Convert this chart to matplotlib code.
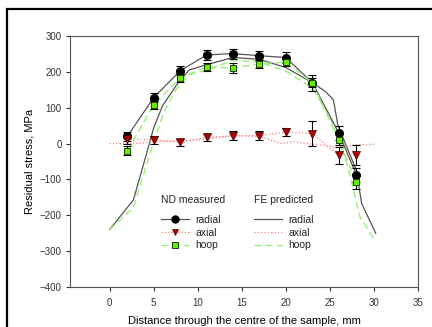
import matplotlib
matplotlib.use('Agg')
import matplotlib.pyplot as plt
from matplotlib.lines import Line2D
from matplotlib.patches import Rectangle

plt.rcParams['font.family'] = ['Liberation Sans', 'DejaVu Sans']

# --- measured (ND) ---
x_meas = [2, 5, 8, 11, 14, 17, 20, 23, 26, 28]
radial = [20, 128, 203, 247, 251, 245, 240, 170, 30, -87]
radial_err = [13, 12, 13, 13, 14, 13, 14, 22, 20, 20]
axial = [12, 11, 3, 17, 22, 22, 32, 28, -33, -32]
axial_err = [12, 11, 11, 11, 13, 12, 11, 35, 23, 27]
hoop = [-20, 108, 183, 214, 211, 222, 227, 170, 11, -107]
hoop_err = [12, 12, 12, 12, 13, 12, 12, 12, 15, 20]

# --- predicted (FE) ---
fe_radial_x = [0, 2.7, 4.2, 5.0, 6.0, 7.5, 9.0, 11, 14, 17, 20, 23, 24.5, 25.4, 25.9, 26.9, 28.0, 28.6, 30.2]
fe_radial = [-240, -157, -27, 44, 105, 160, 205, 220, 240, 235, 212, 170, 145, 122, 52, -9, -74, -167, -250]
fe_axial_x = [0, 3, 5, 8, 11, 14, 17, 19.5, 21, 23, 26, 28, 30.2]
fe_axial = [0, 0, 5, 8, 12, 22, 20, 0, 5, -2, -10, -3, -2]
fe_hoop_x = [0, 2.7, 4.3, 5.2, 6.2, 7.5, 9, 11, 14, 17, 20, 23, 25, 26, 27, 28.4, 30.2]
fe_hoop = [-240, -178, -50, 20, 90, 150, 192, 205, 232, 228, 202, 155, 75, 10, -60, -204, -274]

fig = plt.figure(figsize=(4.32, 3.27), dpi=100)
ax = fig.add_axes([70/432, 1 - 287/327, 348/432, 251/327])

# outer frame of the picture
fig.patches.append(Rectangle((7/432, -0.2), 1.2, 0.2 + 1 - 9/327, transform=fig.transFigure,
                             fill=False, edgecolor='black', linewidth=1.6))

grey = '#555555'
pink = '#ff7f7f'
lgreen = '#99ee77'

# FE lines
ax.plot(fe_radial_x, fe_radial, '-', color=grey, lw=0.9, zorder=2)
ax.plot(fe_axial_x, fe_axial, ':', color=pink, lw=0.9, zorder=2)
ax.plot(fe_hoop_x, fe_hoop, '--', color=lgreen, lw=1.0, dashes=(5, 3), zorder=2)

# measured lines
ax.plot(x_meas, radial, '-', color=grey, lw=0.9, zorder=2)
ax.plot(x_meas, axial, ':', color=pink, lw=0.9, zorder=2)
ax.plot(x_meas, hoop, '--', color=lgreen, lw=1.0, dashes=(5, 3), zorder=2)

# error bars + markers
ebkw = dict(fmt='none', ecolor='black', elinewidth=0.8, capsize=3, capthick=0.8, zorder=3)
ax.errorbar(x_meas, radial, yerr=radial_err, **ebkw)
ax.errorbar(x_meas, axial, yerr=axial_err, **ebkw)
ax.errorbar(x_meas, hoop, yerr=hoop_err, **ebkw)
ax.plot(x_meas, radial, 'o', ms=5.5, mfc='black', mec='black', ls='none', zorder=4)
ax.plot(x_meas, axial, 'v', ms=5.5, mfc='#b00000', mec='#400000', mew=0.5, ls='none', zorder=4)
ax.plot(x_meas, hoop, 's', ms=5, mfc='#66ee00', mec='#204000', mew=0.7, ls='none', zorder=4)

ax.set_xlim(-4.5, 35)
ax.set_ylim(-400, 300)
ax.set_xticks(range(0, 36, 5))
ax.set_yticks(range(-400, 301, 100))
ax.tick_params(direction='out', length=3, width=0.8, labelsize=7, colors='#333333')
ax.tick_params(axis='x', pad=5)
ax.tick_params(axis='y', pad=3)
for s in ax.spines.values():
    s.set_color('#555555')
    s.set_linewidth(0.8)

ax.set_xlabel('Distance through the centre of the sample, mm', fontsize=8, labelpad=6)
ax.set_ylabel('Residual stress, MPa', fontsize=8, labelpad=4)

# legends
h_meas = [
    Line2D([], [], color=grey, lw=0.9, marker='o', ms=5, mfc='black', mec='black'),
    Line2D([], [], color=pink, lw=0.9, ls=':', marker='v', ms=5, mfc='#b00000', mec='#400000', mew=0.5),
    Line2D([], [], color=lgreen, lw=1.0, ls='--', dashes=(5, 3), marker='s', ms=4.5, mfc='#66ee00', mec='#204000', mew=0.7),
]
h_fe = [
    Line2D([], [], color=grey, lw=0.9),
    Line2D([], [], color=pink, lw=0.9, ls=':'),
    Line2D([], [], color=lgreen, lw=1.0, ls='--', dashes=(5, 3)),
]
labels = ['radial', 'axial', 'hoop']
lkw = dict(loc='upper left', frameon=False, fontsize=7.5, title_fontsize=7.5, alignment='left',
           handlelength=2.7, handletextpad=0.6, labelspacing=0.25, borderpad=0, borderaxespad=0)
leg1 = ax.legend(h_meas, labels, title='ND measured', bbox_to_anchor=(0.261, 0.365), **lkw)
ax.add_artist(leg1)
leg2 = ax.legend(h_fe, labels, title='FE predicted', bbox_to_anchor=(0.529, 0.365), **lkw)
for lg in (leg1, leg2):
    lg._legend_box.sep = 7
    for t in lg.get_texts():
        t.set_color('#222222')
    lg.get_title().set_color('#222222')

fig.savefig('out.png', dpi=100)
